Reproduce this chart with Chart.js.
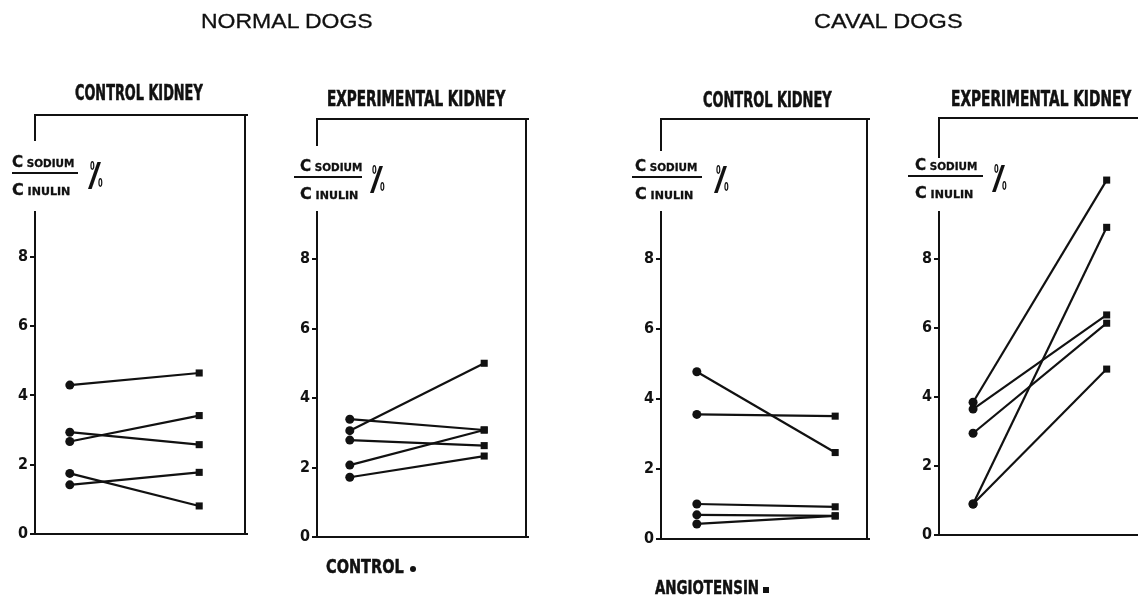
<!DOCTYPE html>
<html>
<head>
<meta charset="utf-8">
<script src="https://cdn.jsdelivr.net/npm/chart.js@4"></script>
<style>
html,body{margin:0;padding:0;background:#fff;overflow:hidden;width:1140px;height:596px;}
#root{position:relative;width:1140px;height:596px;overflow:hidden;}
canvas{position:absolute;top:0;}
.t{position:absolute;white-space:nowrap;color:#111;transform-origin:0 0;line-height:1;}
.bar{position:absolute;background:#111;}
</style>
</head>
<body>
<div id="root"></div>
<script>
// ---- data ----
const stages = ['Control', 'Angiotensin'];
const yTicks = [0, 2, 4, 6, 8];

const normalControlKidneyBefore = [4.3, 2.67, 2.94, 1.75, 1.42];
const normalControlKidneyAfter  = [4.65, 3.42, 2.58, 0.81, 1.78];

const normalExperimentalKidneyBefore = [3.06, 3.39, 2.79, 2.07, 1.72];
const normalExperimentalKidneyAfter  = [5.0, 3.08, 2.63, 3.08, 2.33];

const cavalControlKidneyBefore = [4.78, 3.56, 1.0, 0.69, 0.43];
const cavalControlKidneyAfter  = [2.47, 3.51, 0.92, 0.66, 0.66];

const cavalExperimentalKidneyBefore = [3.85, 0.9, 3.65, 2.95, 0.9];
const cavalExperimentalKidneyAfter  = [10.29, 8.92, 6.38, 6.14, 4.81];

const groupTitles = ['NORMAL DOGS', 'CAVAL DOGS'];
const panelTitles = ['CONTROL KIDNEY', 'EXPERIMENTAL KIDNEY', 'CONTROL KIDNEY', 'EXPERIMENTAL KIDNEY'];

// ---- layout ----
const NARROW = "'Liberation Sans Narrow','DejaVu Sans Condensed','Liberation Sans',sans-serif";
const REG = "'Liberation Sans','DejaVu Sans',sans-serif";
const root = document.getElementById('root');

function placeText(html, o) {
  const s = document.createElement('span');
  s.className = 't';
  s.innerHTML = html;
  s.style.fontFamily = o.family || NARROW;
  s.style.fontSize = o.size + 'px';
  s.style.fontWeight = o.weight || 'bold';
  if (o.stroke) s.style.webkitTextStroke = o.stroke + 'px #111';
  root.appendChild(s);
  const m = document.createElement('span');
  m.style.cssText = 'display:inline-block;width:0;height:0;vertical-align:baseline';
  s.appendChild(m);
  const base = m.offsetTop;
  s.removeChild(m);
  const w = s.offsetWidth;
  const sx = o.width ? o.width / w : 1;
  s.style.left = o.x + 'px';
  s.style.top = (o.baseline - base) + 'px';
  s.style.transform = 'scaleX(' + sx + ')';
  return s;
}
function bar(x, y, w, h) {
  const d = document.createElement('div');
  d.className = 'bar';
  d.style.left = x + 'px'; d.style.top = y + 'px';
  d.style.width = w + 'px'; d.style.height = h + 'px';
  root.appendChild(d);
}

const boxPlugin = {
  id: 'box',
  afterDatasetsDraw(chart, args, o) {
    const {ctx, chartArea: {left, right, top, bottom}} = chart;
    ctx.save();
    ctx.strokeStyle = '#111';
    ctx.lineWidth = 2;
    ctx.lineCap = 'square';
    ctx.beginPath();
    ctx.moveTo(left, o.gapTop);
    ctx.lineTo(left, top);
    ctx.lineTo(right + 2, top);
    if (o.rightBorder) { ctx.moveTo(right, top); ctx.lineTo(right, bottom); }
    ctx.moveTo(right + 2, bottom);
    ctx.lineTo(left, bottom);
    ctx.lineTo(left, o.gapBottom);
    ctx.stroke();
    ctx.restore();
  }
};

const AXW = 35;
const panels = [
  {axisX: 35,  top: 115, bottom: 534, right: 246,  yMax: 12.1,  xMin: -0.269, xMax: 1.354, gapTop: 140, gapBottom: 212, rightBorder: true,
   before: normalControlKidneyBefore, after: normalControlKidneyAfter,
   title: {x: 75, w: 128, base: 100}, lab: {dx: -23, lineDx: -23, lineW: 66}},
  {axisX: 317, top: 119, bottom: 537, right: 527,  yMax: 12.03, xMin: -0.244, xMax: 1.311, gapTop: 145, gapBottom: 212, rightBorder: true,
   before: normalExperimentalKidneyBefore, after: normalExperimentalKidneyAfter,
   title: {x: 327, w: 178, base: 106}, lab: {dx: -17, lineDx: -23, lineW: 68}},
  {axisX: 661, top: 119, bottom: 539, right: 868,  yMax: 12.0,  xMin: -0.259, xMax: 1.230, gapTop: 150, gapBottom: 212, rightBorder: true,
   before: cavalControlKidneyBefore, after: cavalControlKidneyAfter,
   title: {x: 703, w: 129, base: 107}, lab: {dx: -26, lineDx: -29, lineW: 70}},
  {axisX: 939, top: 118, bottom: 535, right: 1140, yMax: 12.09, xMin: -0.255, xMax: 1.212, gapTop: 157, gapBottom: 212, rightBorder: false,
   before: cavalExperimentalKidneyBefore, after: cavalExperimentalKidneyAfter,
   title: {x: 951, w: 180, base: 106}, lab: {dx: -24, lineDx: -31, lineW: 75}}
];

panels.forEach((p, idx) => {
  const cv = document.createElement('canvas');
  const left = p.axisX - AXW;
  const width = Math.min(p.right + 4, 1140) - left;
  cv.width = width; cv.height = 596;
  cv.style.left = left + 'px';
  cv.style.width = width + 'px'; cv.style.height = '596px';
  root.appendChild(cv);
  const padRight = width - (p.right - left);
  const datasets = p.before.map((b, i) => ({
    label: 'Dog ' + (i + 1),
    data: [{x: stages.indexOf('Control'), y: b}, {x: stages.indexOf('Angiotensin'), y: p.after[i]}],
    borderColor: '#111',
    borderWidth: 2.2,
    pointStyle: ['circle', 'rect'],
    pointRadius: [4.5, 5],
    pointBackgroundColor: '#111',
    pointBorderColor: '#111',
    pointBorderWidth: 0,
    tension: 0,
    clip: false
  }));
  new Chart(cv, {
    type: 'line',
    data: {datasets},
    plugins: [boxPlugin],
    options: {
      responsive: false,
      animation: false,
      devicePixelRatio: 1,
      layout: {padding: {top: p.top, bottom: 596 - p.bottom, left: 0, right: padRight}},
      plugins: {
        legend: {display: false},
        tooltip: {enabled: false},
        box: {gapTop: p.gapTop, gapBottom: p.gapBottom, rightBorder: p.rightBorder}
      },
      scales: {
        x: {type: 'linear', min: p.xMin, max: p.xMax, display: false},
        y: {
          min: 0, max: p.yMax,
          afterBuildTicks: s => { s.ticks = yTicks.map(v => ({value: v})); },
          afterFit: s => { s.width = AXW; },
          border: {display: false},
          grid: {drawOnChartArea: false, drawTicks: true, tickLength: 5, color: '#111', lineWidth: 2},
          ticks: {color: '#111', padding: 2, font: {family: NARROW, size: 16, weight: 'bold'}}
        }
      }
    }
  });

  // panel title
  placeText(panelTitles[idx], {x: p.title.x, baseline: p.title.base, size: 22, width: p.title.w, stroke: 0.6});
  // y-axis label: C sodium / C inulin %
  const A = p.axisX, T = p.top;
  placeText('C<span style="font-size:11px"> SODIUM</span>', {x: A + p.lab.dx, baseline: T + 52, size: 16, width: 62, stroke: 0.3});
  bar(A + p.lab.lineDx, T + 57, p.lab.lineW, 2);
  placeText('C<span style="font-size:11px"> INULIN</span>', {x: A + p.lab.dx, baseline: T + 80, size: 16, width: 58, stroke: 0.3});
  placeText('0', {x: A + 55, baseline: T + 55, size: 12, width: 5});
  placeText('/', {x: A + 53, baseline: T + 74, size: 36, weight: 'normal', family: REG, width: 13});
  placeText('0', {x: A + 63, baseline: T + 72, size: 12, width: 5});
});

// group titles
placeText(groupTitles[0], {x: 201, baseline: 28, size: 21, weight: 'normal', family: REG, width: 172, stroke: 0.3});
placeText(groupTitles[1], {x: 814, baseline: 28, size: 21, weight: 'normal', family: REG, width: 149, stroke: 0.3});

// legend
placeText(stages[0].toUpperCase(), {x: 326, baseline: 573, size: 19, width: 78, stroke: 0.5});
const dot = document.createElement('div');
dot.style.cssText = 'position:absolute;left:410px;top:566px;width:6px;height:6px;border-radius:50%;background:#111;';
root.appendChild(dot);
placeText(stages[1].toUpperCase(), {x: 655, baseline: 594, size: 19, width: 104, stroke: 0.5});
bar(763, 587, 6, 6);
</script>
</body>
</html>
